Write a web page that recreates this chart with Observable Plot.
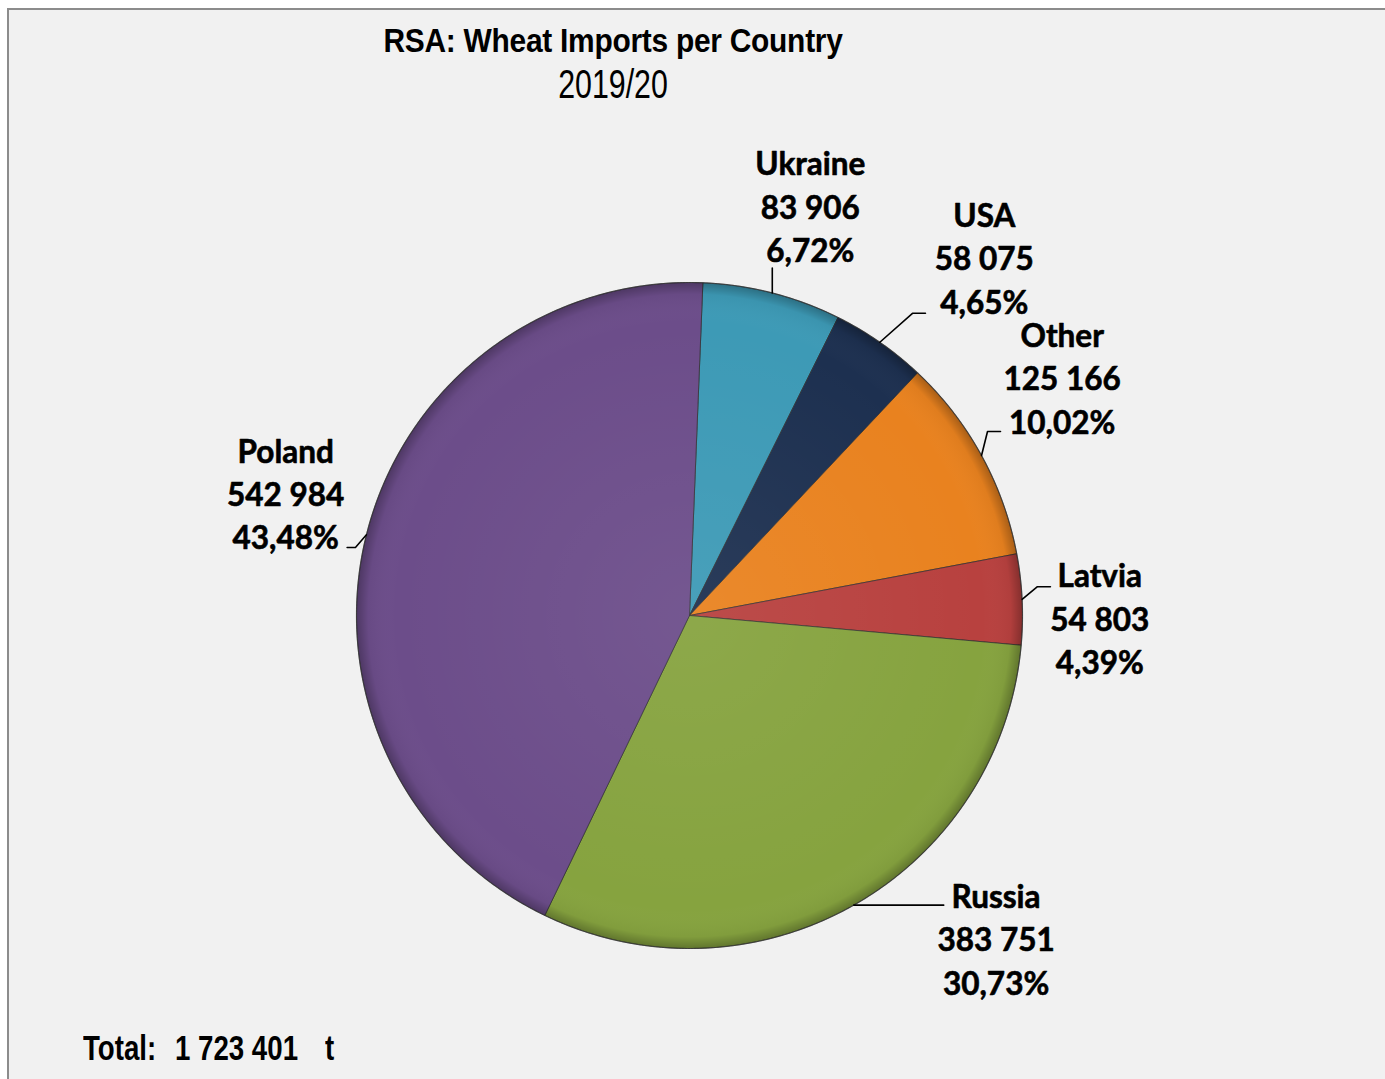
<!DOCTYPE html>
<html>
<head>
<meta charset="utf-8">
<script src="https://cdn.jsdelivr.net/npm/d3@7"></script>
<script src="https://cdn.jsdelivr.net/npm/@observablehq/plot@0.6"></script>
<style>
  html, body { margin: 0; padding: 0; background: #ffffff; }
  #frame { position: absolute; left: 7px; top: 8px; width: 1376px; height: 1071px;
           border-left: 2px solid #8c8c8c; border-top: 2px solid #8c8c8c;
           background: #f1f1f1; overflow: hidden; }
  .narrow { font-family: "Liberation Sans", Arial, sans-serif; color: #000; }
  #title { position: absolute; left: 0; width: 1208px; top: 13px; text-align: center;
           font-size: 34px; line-height: 34px; font-weight: bold; white-space: nowrap;
           transform: scaleX(0.88); transform-origin: 604px 0; letter-spacing: -0.3px; }
  #subtitle { position: absolute; left: 0; width: 1208px; top: 54px; text-align: center;
              font-size: 41px; line-height: 41px; white-space: nowrap;
              transform: scaleX(0.74); transform-origin: 604px 0; }
  #chart { position: absolute; left: 0; top: 112px; }
  .tot { position: absolute; top: 1020px; font-size: 35px; line-height: 35px; font-weight: bold;
         white-space: nowrap; transform: scaleX(0.79); transform-origin: 0 0; }
</style>
</head>
<body>
<div id="frame">
  <div id="title" class="narrow">RSA: Wheat Imports per Country</div>
  <div id="subtitle" class="narrow">2019/20</div>
  <div id="chart"></div>
  <span class="tot narrow" style="left:74px">Total:</span>
  <span class="tot narrow" style="left:166px" id="totval"></span>
  <span class="tot narrow" style="left:316px">t</span>
</div>
<script>
// ---------- data ----------
const countries = ["Ukraine", "USA", "Other", "Latvia", "Russia", "Poland"];
const tonnes    = [83906, 58075, 125166, 54803, 383751, 542984];
const TOTAL_STATED = 1723401;

// ---------- style / layout (not data) ----------
const sliceColors = ["#3d9ab6", "#1d3050", "#e9821f", "#b8413f", "#86a33f", "#6c4d8a"];
const startDeg = 2.3; // rotation of the first slice, clockwise from 12 o'clock
// label placement: polar position (deg clockwise from top, radius in pie radii),
// leader bend (dx, dy in radii) and horizontal run
const labelLayout = {
  Ukraine: {angle: 16.4,  r: 1.285, bend: [0, 0.075],       run: 0},
  USA:     {angle: 39.4,  r: 1.395, bend: [0.098, 0.087],   run: 0.039},
  Other:   {angle: 57.3,  r: 1.330, bend: [0.018, 0.072],   run: 0.039},
  Latvia:  {angle: 90.2,  r: 1.232, bend: [0.046, 0.038],   run: 0.039},
  Russia:  {angle: 136.4, r: 1.335, bend: [0, 0],           run: 0.27},
  Poland:  {angle: 287.0, r: 1.268, bend: [-0.033, -0.038], run: -0.025}
};

const W = 1376, H = 890, R = 333, CX = 680, CY = 493;

const locale = d3.formatLocale({decimal: ",", thousands: "\u00a0", grouping: [3], currency: ["", ""]});
const fmtNum = locale.format(",d");
const fmtPct = locale.format(".2f");
document.getElementById("totval").textContent = locale.format(",d")(TOTAL_STATED).replace(/\u00a0/g, " ");

const sum = d3.sum(tonnes);
const rad = d => d * Math.PI / 180;
const px = (a, r) => r * Math.sin(a);
const py = (a, r) => r * Math.cos(a);

// slices
let acc = rad(startDeg);
const slices = countries.map((name, i) => {
  const a0 = acc, a1 = acc + (tonnes[i] / sum) * 2 * Math.PI;
  acc = a1;
  return {name, value: tonnes[i], a0, a1, mid: (a0 + a1) / 2, pct: tonnes[i] / sum * 100};
});

const slicePts = [];
for (const s of slices) {
  slicePts.push({name: s.name, x: 0, y: 0});
  const n = Math.max(2, Math.ceil((s.a1 - s.a0) / rad(0.5)));
  for (let k = 0; k <= n; k++) {
    const a = s.a0 + (s.a1 - s.a0) * k / n;
    slicePts.push({name: s.name, x: px(a, 1), y: py(a, 1)});
  }
  slicePts.push({name: s.name, x: 0, y: 0});
}
const ringPts = d3.range(0, 721).map(k => ({x: px(rad(k / 2), 1), y: py(rad(k / 2), 1)}));

// leaders
const leaderPts = [];
for (const s of slices) {
  const L = labelLayout[s.name];
  const x0 = px(s.mid, 1), y0 = py(s.mid, 1);
  const x1 = x0 + L.bend[0], y1 = y0 + L.bend[1];
  leaderPts.push({name: s.name, x: x0, y: y0});
  leaderPts.push({name: s.name, x: x1, y: y1});
  if (L.run !== 0) leaderPts.push({name: s.name, x: x1 + L.run, y: y1});
}

// labels
const labels = slices.map(s => {
  const L = labelLayout[s.name];
  return {
    x: px(rad(L.angle), L.r), y: py(rad(L.angle), L.r),
    text: `${s.name}\n${fmtNum(s.value).replace(/\u00a0/g, " ")}\n${fmtPct(s.pct)}%`
  };
});

const chart = Plot.plot({
  width: W, height: H, margin: 0,
  style: {background: "transparent", overflow: "visible"},
  x: {domain: [-CX / R, (W - CX) / R], axis: null},
  y: {domain: [-(H - CY) / R, CY / R], axis: null},
  color: {domain: countries, range: sliceColors},
  marks: [
    Plot.line(slicePts, {x: "x", y: "y", z: "name", fill: "name", stroke: "#2e2e2e",
                         strokeWidth: 1, strokeOpacity: 0.7, strokeLinejoin: "round"}),
    Plot.line(ringPts, {x: "x", y: "y", fill: "url(#pieShade)", stroke: "#333", strokeWidth: 1.2, strokeOpacity: 0.6}),
    Plot.line(leaderPts, {x: "x", y: "y", z: "name", stroke: "#000", strokeWidth: 1.6}),
    Plot.text(labels, {x: "x", y: "y", text: "text", fontSize: 31.5, fontWeight: "bold",
                       fontFamily: "Lato, 'Open Sans', sans-serif", lineHeight: 1.38,
                       fill: "#000", stroke: "#000", strokeWidth: 0.6,
                       textAnchor: "middle", lineAnchor: "middle"})
  ]
});

const defs = d3.select(chart).insert("defs", ":first-child");
const g = defs.append("radialGradient").attr("id", "pieShade")
  .attr("cx", "50%").attr("cy", "50%").attr("r", "50%");
[[0, "#ffffff", 0.06], [0.88, "#ffffff", 0], [0.965, "#000000", 0.04], [1, "#000000", 0.28]]
  .forEach(([o, c, a]) => g.append("stop").attr("offset", o).attr("stop-color", c).attr("stop-opacity", a));

document.getElementById("chart").appendChild(chart);
</script>
</body>
</html>
